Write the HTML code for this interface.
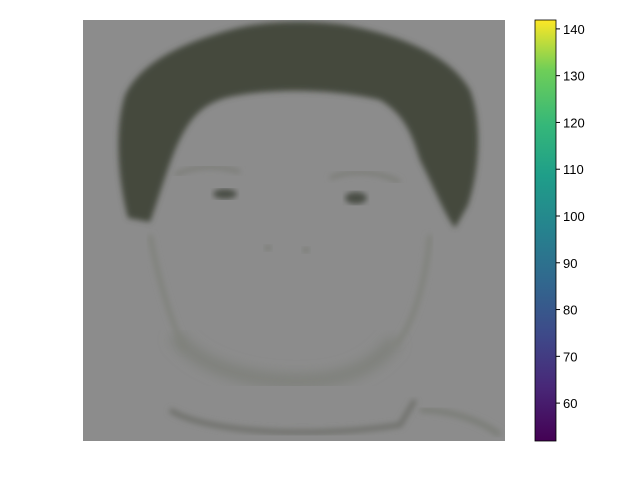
<!DOCTYPE html>
<html><head><meta charset="utf-8"><style>
body{margin:0;background:#fff;font-family:"Liberation Sans",sans-serif;}
svg{display:block}
</style></head><body>
<svg width="640" height="480" viewBox="0 0 640 480">
<defs>
<filter id="b3"><feGaussianBlur stdDeviation="3"/></filter>
<filter id="b6"><feGaussianBlur stdDeviation="6"/></filter>
<linearGradient id="vir" x1="0" y1="1" x2="0" y2="0">
<stop offset="0" stop-color="#440154"/><stop offset="0.13" stop-color="#482878"/>
<stop offset="0.25" stop-color="#3e4989"/><stop offset="0.38" stop-color="#31688e"/>
<stop offset="0.5" stop-color="#26828e"/><stop offset="0.63" stop-color="#1f9e89"/>
<stop offset="0.75" stop-color="#35b779"/><stop offset="0.88" stop-color="#6ece58"/>
<stop offset="1" stop-color="#fde725"/></linearGradient>
<clipPath id="imgclip"><rect x="83" y="20" width="422" height="421"/></clipPath>
</defs>
<g clip-path="url(#imgclip)">
<rect x="83" y="20" width="422" height="421" fill="#8c8c8c"/>
<path filter="url(#b3)" fill="#454a3e" d="M128,218 C118,180 114,130 125,95 C140,65 175,45 230,30 C265,20 310,20 345,25 C400,35 450,55 470,90 C482,120 480,170 468,205 L455,228 C445,215 435,190 420,160 C412,135 405,115 380,100 C340,90 280,88 240,95 C205,100 190,115 175,150 C165,175 158,200 150,222 Z"/>
<path filter="url(#b6)" fill="none" stroke="#7e807a" stroke-width="14" d="M175,335 C200,370 260,385 320,380 C360,375 380,360 395,340"/>
<path filter="url(#b3)" fill="none" stroke="#80827c" stroke-width="5" d="M150,235 C160,290 175,330 185,350"/>
<path filter="url(#b3)" fill="none" stroke="#80827c" stroke-width="5" d="M430,235 C425,290 410,330 395,345"/>
<path filter="url(#b3)" fill="none" stroke="#7a7c76" stroke-width="4" d="M175,175 C195,165 220,165 240,172"/>
<path filter="url(#b3)" fill="none" stroke="#7a7c76" stroke-width="4" d="M330,178 C350,170 375,170 400,182"/>
<ellipse cx="225" cy="194" rx="12" ry="5" fill="#4a4d45" filter="url(#b3)"/>
<ellipse cx="356" cy="198" rx="11" ry="6" fill="#4a4d45" filter="url(#b3)"/>
<ellipse cx="268" cy="248" rx="4" ry="3" fill="#7c7e78" filter="url(#b3)"/>
<ellipse cx="306" cy="250" rx="4" ry="3" fill="#7c7e78" filter="url(#b3)"/>
<path filter="url(#b3)" fill="none" stroke="#6e706a" stroke-width="5" d="M170,410 C200,430 300,440 400,425 L415,400"/>
<path filter="url(#b3)" fill="none" stroke="#7c7e78" stroke-width="6" d="M420,410 C450,410 480,420 500,435"/>
</g>
<rect x="535" y="20" width="21" height="421" fill="url(#vir)" stroke="#000" stroke-width="0.8"/>
<g id="ticks" font-size="13" fill="#000"></g>
<script>
const tickVals=[60,70,80,90,100,110,120,130,140];
const vMin=51.9, vMax=141.9, cbTop=20, cbBot=441;
const tg=document.getElementById('ticks');
function yPos(v){return cbBot-(v-vMin)/(vMax-vMin)*(cbBot-cbTop);}
tickVals.forEach(function(v){
 const l=document.createElementNS('http://www.w3.org/2000/svg','line');
 
 
 l.setAttribute('x1',556);l.setAttribute('x2',560);l.setAttribute('y1',yPos(v));l.setAttribute('y2',yPos(v));l.setAttribute('stroke','#000');
 tg.appendChild(l);
 const t=document.createElementNS('http://www.w3.org/2000/svg','text');
 
 
 t.setAttribute('x',563);t.setAttribute('y',yPos(v)+5);t.textContent=v;
 tg.appendChild(t);
});
</script>
</svg>
</body></html>
